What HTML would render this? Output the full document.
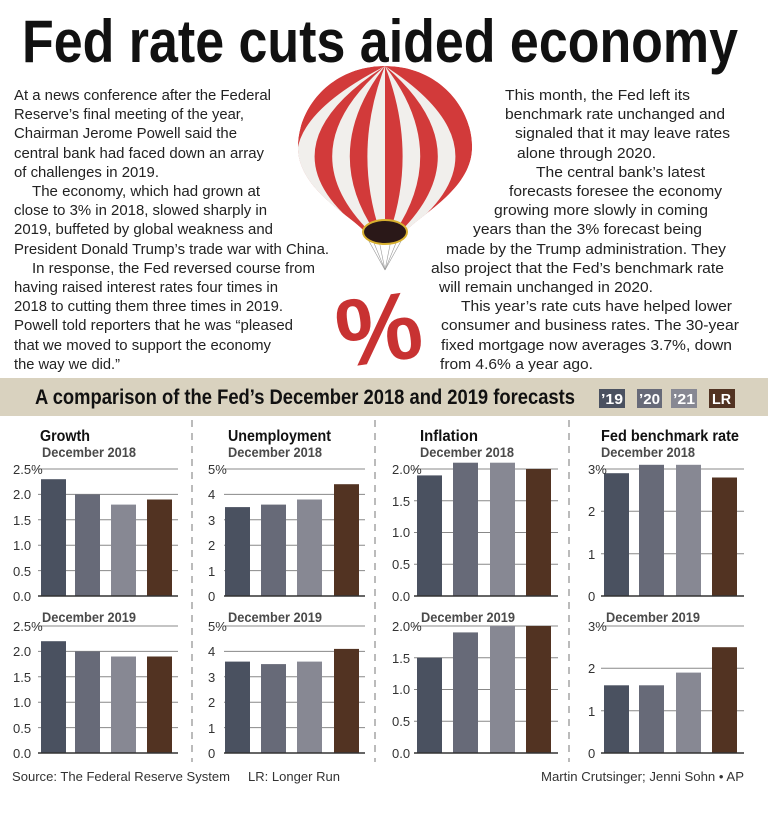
<!DOCTYPE html>
<html><head><meta charset="utf-8"><style>
html,body{margin:0;padding:0;background:#fff;}
svg{display:block;}
</style></head><body>
<svg width="768" height="824" viewBox="0 0 768 824" xmlns="http://www.w3.org/2000/svg" font-family="Liberation Sans, sans-serif">
<rect width="768" height="824" fill="#fff"/>
<!-- Title -->
<text x="22" y="62" font-size="60" font-weight="bold" fill="#111" textLength="716" lengthAdjust="spacingAndGlyphs">Fed rate cuts aided economy</text>

<!-- Balloon -->
<defs>
<clipPath id="bl"><path d="M385,66 C440,66 474,110 472,150 C470,190 420,215 405,232 L365,232 C350,215 300,190 298,150 C296,110 330,66 385,66 Z"/></clipPath>
</defs>
<g stroke="#999" stroke-width="0.6">
<line x1="365" y1="234" x2="385" y2="270"/><line x1="372" y1="238" x2="385" y2="270"/><line x1="379" y1="240" x2="385" y2="270"/><line x1="391" y1="240" x2="385" y2="270"/><line x1="398" y1="238" x2="385" y2="270"/><line x1="405" y1="234" x2="385" y2="270"/>
</g>
<g clip-path="url(#bl)">
<path d="M385,66 C440,66 474,110 472,150 C470,190 420,215 405,232 L365,232 C350,215 300,190 298,150 C296,110 330,66 385,66 Z" fill="#d23a3a"/>
<g fill="#f1efec">
<path d="M385,66 Q222.5,150 360,232 L365,232 Q255,150 385,66Z"/>
<path d="M385,66 Q287.5,150 370,232 L375,232 Q320,150 385,66Z"/>
<path d="M385,66 Q352.5,150 380,232 L385,232 Q385,150 385,66Z"/>
<path d="M385,66 Q417.5,150 390,232 L395,232 Q450,150 385,66Z"/>
<path d="M385,66 Q482.5,150 400,232 L405,232 Q515,150 385,66Z"/>
</g>
</g>
<ellipse cx="385" cy="232" rx="22" ry="12" fill="#2a1818" stroke="#d8b030" stroke-width="2"/>
<text x="335" y="362" font-size="96" font-weight="bold" fill="#c83232" transform="rotate(-8 380 320)">%</text>

<!-- Left body -->
<g font-size="15" fill="#222">
<text x="14" y="100" textLength="257" lengthAdjust="spacingAndGlyphs">At a news conference after the Federal</text>
<text x="14" y="119" textLength="230" lengthAdjust="spacingAndGlyphs">Reserve’s final meeting of the year,</text>
<text x="14" y="138" textLength="223" lengthAdjust="spacingAndGlyphs">Chairman Jerome Powell said the</text>
<text x="14" y="158" textLength="250" lengthAdjust="spacingAndGlyphs">central bank had faced down an array</text>
<text x="14" y="177" textLength="145" lengthAdjust="spacingAndGlyphs">of challenges in 2019.</text>
<text x="32" y="196" textLength="228" lengthAdjust="spacingAndGlyphs">The economy, which had grown at</text>
<text x="14" y="215" textLength="253" lengthAdjust="spacingAndGlyphs">close to 3% in 2018, slowed sharply in</text>
<text x="14" y="234" textLength="259" lengthAdjust="spacingAndGlyphs">2019, buffeted by global weakness and</text>
<text x="14" y="254" textLength="315" lengthAdjust="spacingAndGlyphs">President Donald Trump’s trade war with China.</text>
<text x="32" y="273" textLength="283" lengthAdjust="spacingAndGlyphs">In response, the Fed reversed course from</text>
<text x="14" y="292" textLength="264" lengthAdjust="spacingAndGlyphs">having raised interest rates four times in</text>
<text x="14" y="311" textLength="269" lengthAdjust="spacingAndGlyphs">2018 to cutting them three times in 2019.</text>
<text x="14" y="330" textLength="279" lengthAdjust="spacingAndGlyphs">Powell told reporters that he was “pleased</text>
<text x="14" y="350" textLength="257" lengthAdjust="spacingAndGlyphs">that we moved to support the economy</text>
<text x="14" y="369" textLength="106" lengthAdjust="spacingAndGlyphs">the way we did.”</text>
</g>
<!-- Right body -->
<g font-size="15" fill="#222">
<text x="505" y="100" textLength="185" lengthAdjust="spacingAndGlyphs">This month, the Fed left its</text>
<text x="505" y="119" textLength="220" lengthAdjust="spacingAndGlyphs">benchmark rate unchanged and</text>
<text x="515" y="138" textLength="215" lengthAdjust="spacingAndGlyphs">signaled that it may leave rates</text>
<text x="517" y="158" textLength="139" lengthAdjust="spacingAndGlyphs">alone through 2020.</text>
<text x="536" y="177" textLength="169" lengthAdjust="spacingAndGlyphs">The central bank’s latest</text>
<text x="509" y="196" textLength="213" lengthAdjust="spacingAndGlyphs">forecasts foresee the economy</text>
<text x="494" y="215" textLength="214" lengthAdjust="spacingAndGlyphs">growing more slowly in coming</text>
<text x="473" y="234" textLength="229" lengthAdjust="spacingAndGlyphs">years than the 3% forecast being</text>
<text x="446" y="254" textLength="280" lengthAdjust="spacingAndGlyphs">made by the Trump administration. They</text>
<text x="431" y="273" textLength="293" lengthAdjust="spacingAndGlyphs">also project that the Fed’s benchmark rate</text>
<text x="439" y="292" textLength="214" lengthAdjust="spacingAndGlyphs">will remain unchanged in 2020.</text>
<text x="461" y="311" textLength="271" lengthAdjust="spacingAndGlyphs">This year’s rate cuts have helped lower</text>
<text x="441" y="330" textLength="298" lengthAdjust="spacingAndGlyphs">consumer and business rates. The 30-year</text>
<text x="441" y="350" textLength="291" lengthAdjust="spacingAndGlyphs">fixed mortgage now averages 3.7%, down</text>
<text x="440" y="369" textLength="153" lengthAdjust="spacingAndGlyphs">from 4.6% a year ago.</text>
</g>

<!-- Header bar -->
<rect x="0" y="378" width="768" height="38" fill="#d9d2bf"/>
<text x="35" y="404" font-size="21" font-weight="bold" fill="#111" textLength="540" lengthAdjust="spacingAndGlyphs">A comparison of the Fed’s December 2018 and 2019 forecasts</text>
<rect x="599" y="389" width="26" height="19" fill="#4a5160"/>
<rect x="637" y="389" width="25" height="19" fill="#676a78"/>
<rect x="671" y="389" width="26" height="19" fill="#878893"/>
<rect x="709" y="389" width="26" height="19" fill="#523322"/>
<g font-size="15" font-weight="bold" fill="#fff">
<text x="601" y="404" textLength="22" lengthAdjust="spacingAndGlyphs">’19</text>
<text x="639" y="404" textLength="21" lengthAdjust="spacingAndGlyphs">’20</text>
<text x="673" y="404" textLength="22" lengthAdjust="spacingAndGlyphs">’21</text>
<text x="712" y="404" textLength="19" lengthAdjust="spacingAndGlyphs">LR</text>
</g>

<!-- Dividers -->
<g stroke="#777" stroke-width="1" stroke-dasharray="7,6">
<line x1="192" y1="420" x2="192" y2="762"/>
<line x1="375" y1="420" x2="375" y2="762"/>
<line x1="569" y1="420" x2="569" y2="762"/>
</g>

<!-- Panel titles -->
<g font-weight="bold" fill="#111" font-size="16">
<text x="40" y="441" textLength="50" lengthAdjust="spacingAndGlyphs">Growth</text>
<text x="228" y="441" textLength="103" lengthAdjust="spacingAndGlyphs">Unemployment</text>
<text x="420" y="441" textLength="58" lengthAdjust="spacingAndGlyphs">Inflation</text>
<text x="601" y="441" textLength="138" lengthAdjust="spacingAndGlyphs">Fed benchmark rate</text>
</g>
<g font-weight="bold" fill="#4a4a4a" font-size="14">
<text x="42" y="457" textLength="94" lengthAdjust="spacingAndGlyphs">December 2018</text>
<text x="228" y="457" textLength="94" lengthAdjust="spacingAndGlyphs">December 2018</text>
<text x="420" y="457" textLength="94" lengthAdjust="spacingAndGlyphs">December 2018</text>
<text x="601" y="457" textLength="94" lengthAdjust="spacingAndGlyphs">December 2018</text>
<text x="42" y="622" textLength="94" lengthAdjust="spacingAndGlyphs">December 2019</text>
<text x="228" y="622" textLength="94" lengthAdjust="spacingAndGlyphs">December 2019</text>
<text x="421" y="622" textLength="94" lengthAdjust="spacingAndGlyphs">December 2019</text>
<text x="606" y="622" textLength="94" lengthAdjust="spacingAndGlyphs">December 2019</text>
</g>

<!-- Gridlines -->
<g stroke="#888" stroke-width="1">
<!-- growth upper/lower -->
<line x1="38" x2="178" y1="469" y2="469"/><line x1="38" x2="178" y1="494.4" y2="494.4"/><line x1="38" x2="178" y1="519.8" y2="519.8"/><line x1="38" x2="178" y1="545.2" y2="545.2"/><line x1="38" x2="178" y1="570.6" y2="570.6"/>
<line x1="38" x2="178" y1="626" y2="626"/><line x1="38" x2="178" y1="651.4" y2="651.4"/><line x1="38" x2="178" y1="676.8" y2="676.8"/><line x1="38" x2="178" y1="702.2" y2="702.2"/><line x1="38" x2="178" y1="727.6" y2="727.6"/>
<!-- unemp -->
<line x1="224" x2="365" y1="469" y2="469"/><line x1="224" x2="365" y1="494.4" y2="494.4"/><line x1="224" x2="365" y1="519.8" y2="519.8"/><line x1="224" x2="365" y1="545.2" y2="545.2"/><line x1="224" x2="365" y1="570.6" y2="570.6"/>
<line x1="224" x2="365" y1="626" y2="626"/><line x1="224" x2="365" y1="651.4" y2="651.4"/><line x1="224" x2="365" y1="676.8" y2="676.8"/><line x1="224" x2="365" y1="702.2" y2="702.2"/><line x1="224" x2="365" y1="727.6" y2="727.6"/>
<!-- inflation -->
<line x1="414" x2="558" y1="469" y2="469"/><line x1="414" x2="558" y1="500.75" y2="500.75"/><line x1="414" x2="558" y1="532.5" y2="532.5"/><line x1="414" x2="558" y1="564.25" y2="564.25"/>
<line x1="414" x2="558" y1="626" y2="626"/><line x1="414" x2="558" y1="657.75" y2="657.75"/><line x1="414" x2="558" y1="689.5" y2="689.5"/><line x1="414" x2="558" y1="721.25" y2="721.25"/>
<!-- fed -->
<line x1="601" x2="744" y1="469" y2="469"/><line x1="601" x2="744" y1="511.3" y2="511.3"/><line x1="601" x2="744" y1="553.7" y2="553.7"/>
<line x1="601" x2="744" y1="626" y2="626"/><line x1="601" x2="744" y1="668.3" y2="668.3"/><line x1="601" x2="744" y1="710.7" y2="710.7"/>
</g>

<!-- Bars upper -->
<g>
<rect x="41" y="479.2" width="25" height="116.8" fill="#4a5160"/>
<rect x="75" y="494.4" width="25" height="101.6" fill="#676a78"/>
<rect x="111" y="504.6" width="25" height="91.4" fill="#878893"/>
<rect x="147" y="499.5" width="25" height="96.5" fill="#523322"/>

<rect x="225" y="507.1" width="25" height="88.9" fill="#4a5160"/>
<rect x="261" y="504.6" width="25" height="91.4" fill="#676a78"/>
<rect x="297" y="499.5" width="25" height="96.5" fill="#878893"/>
<rect x="334" y="484.2" width="25" height="111.8" fill="#523322"/>

<rect x="417" y="475.4" width="25" height="120.6" fill="#4a5160"/>
<rect x="453" y="462.7" width="25" height="133.3" fill="#676a78"/>
<rect x="490" y="462.7" width="25" height="133.3" fill="#878893"/>
<rect x="526" y="469" width="25" height="127" fill="#523322"/>

<rect x="604" y="473.2" width="25" height="122.8" fill="#4a5160"/>
<rect x="639" y="464.8" width="25" height="131.2" fill="#676a78"/>
<rect x="676" y="464.8" width="25" height="131.2" fill="#878893"/>
<rect x="712" y="477.5" width="25" height="118.5" fill="#523322"/>
</g>
<!-- Bars lower -->
<g>
<rect x="41" y="641.2" width="25" height="111.8" fill="#4a5160"/>
<rect x="75" y="651.4" width="25" height="101.6" fill="#676a78"/>
<rect x="111" y="656.5" width="25" height="96.5" fill="#878893"/>
<rect x="147" y="656.5" width="25" height="96.5" fill="#523322"/>

<rect x="225" y="661.6" width="25" height="91.4" fill="#4a5160"/>
<rect x="261" y="664.1" width="25" height="88.9" fill="#676a78"/>
<rect x="297" y="661.6" width="25" height="91.4" fill="#878893"/>
<rect x="334" y="648.9" width="25" height="104.1" fill="#523322"/>

<rect x="417" y="657.75" width="25" height="95.25" fill="#4a5160"/>
<rect x="453" y="632.4" width="25" height="120.6" fill="#676a78"/>
<rect x="490" y="626" width="25" height="127" fill="#878893"/>
<rect x="526" y="626" width="25" height="127" fill="#523322"/>

<rect x="604" y="685.3" width="25" height="67.7" fill="#4a5160"/>
<rect x="639" y="685.3" width="25" height="67.7" fill="#676a78"/>
<rect x="676" y="672.6" width="25" height="80.4" fill="#878893"/>
<rect x="712" y="647.2" width="25" height="105.8" fill="#523322"/>
</g>

<!-- Zero lines -->
<g stroke="#333" stroke-width="1.6">
<line x1="38" x2="178" y1="596" y2="596"/><line x1="224" x2="365" y1="596" y2="596"/><line x1="414" x2="558" y1="596" y2="596"/><line x1="601" x2="744" y1="596" y2="596"/>
<line x1="38" x2="178" y1="753" y2="753"/><line x1="224" x2="365" y1="753" y2="753"/><line x1="414" x2="558" y1="753" y2="753"/><line x1="601" x2="744" y1="753" y2="753"/>
</g>

<!-- Tick labels -->
<g font-size="13" fill="#333">
<text x="13" y="474">2.5%</text><text x="13" y="499">2.0</text><text x="13" y="525">1.5</text><text x="13" y="550">1.0</text><text x="13" y="576">0.5</text><text x="13" y="601">0.0</text>
<text x="13" y="631">2.5%</text><text x="13" y="656">2.0</text><text x="13" y="682">1.5</text><text x="13" y="707">1.0</text><text x="13" y="733">0.5</text><text x="13" y="758">0.0</text>

<text x="208" y="474">5%</text><text x="208" y="499">4</text><text x="208" y="525">3</text><text x="208" y="550">2</text><text x="208" y="576">1</text><text x="208" y="601">0</text>
<text x="208" y="631">5%</text><text x="208" y="656">4</text><text x="208" y="682">3</text><text x="208" y="707">2</text><text x="208" y="733">1</text><text x="208" y="758">0</text>

<text x="392" y="474">2.0%</text><text x="392" y="506">1.5</text><text x="392" y="537">1.0</text><text x="392" y="569">0.5</text><text x="392" y="601">0.0</text>
<text x="392" y="631">2.0%</text><text x="392" y="663">1.5</text><text x="392" y="694">1.0</text><text x="392" y="726">0.5</text><text x="392" y="758">0.0</text>

<text x="588" y="474">3%</text><text x="588" y="516">2</text><text x="588" y="559">1</text><text x="588" y="601">0</text>
<text x="588" y="631">3%</text><text x="588" y="673">2</text><text x="588" y="716">1</text><text x="588" y="758">0</text>
</g>

<!-- Footer -->
<g font-size="13" fill="#333">
<text x="12" y="781" textLength="218" lengthAdjust="spacingAndGlyphs">Source: The Federal Reserve System</text>
<text x="248" y="781" textLength="92" lengthAdjust="spacingAndGlyphs">LR: Longer Run</text>
<text x="541" y="781" textLength="203" lengthAdjust="spacingAndGlyphs">Martin Crutsinger; Jenni Sohn • AP</text>
</g>
</svg>
</body></html>
